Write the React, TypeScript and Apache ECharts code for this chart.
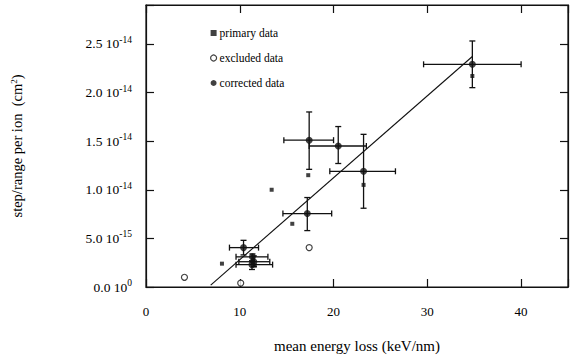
import React, { useEffect, useRef } from "react";
import * as echarts from "echarts";

// y values in units of 1e-15 cm^2
const primaryData: number[][] = [
  [34.8, 21.7], [17.3, 11.5], [23.2, 10.5], [13.4, 10.0], [15.6, 6.5], [8.1, 2.4],
  [11.4, 2.8], [11.6, 2.2],
];
const excludedData: number[][] = [
  [4.1, 1.0], [10.1, 0.4], [17.4, 4.05],
];
// [x, y, xLow, xHigh, yLow, yHigh]
const correctedData: number[][] = [
  [34.8, 22.9, 29.6, 40.0, 20.5, 25.3],
  [17.4, 15.1, 14.7, 20.0, 12.1, 18.0],
  [20.5, 14.5, 17.4, 23.5, 12.7, 16.5],
  [23.2, 11.9, 19.6, 26.6, 8.1, 15.7],
  [17.2, 7.55, 14.6, 19.8, 5.8, 9.2],
  [10.4, 4.05, 8.9, 12.0, 3.3, 4.8],
  [11.35, 3.1, 9.6, 13.0, 2.6, 3.4],
  [11.5, 2.6, 9.9, 13.2, 2.1, 3.2],
  [11.3, 2.3, 9.6, 13.5, 1.8, 2.7],
];
const fitLine: number[][] = [
  [6.9, 0.2],
  [34.8, 23.7],
];
const xTickLabels = [0, 10, 20, 30, 40];
const yTickLabels: Record<number, string[]> = {
  0: ["0.0", "0"],
  5: ["5.0", "-15"],
  10: ["1.0", "-14"],
  15: ["1.5", "-14"],
  20: ["2.0", "-14"],
  25: ["2.5", "-14"],
};
const legendNames = ["primary data", "excluded data", "corrected data"];

const FONT = "Liberation Serif";
const INK = "#000";

export default function App() {
  const ref = useRef<HTMLDivElement>(null);
  useEffect(() => {
    if (!ref.current) return;
    const chart = echarts.init(ref.current, undefined, { renderer: "svg" });
    const axisLine = { show: true, onZero: false, lineStyle: { color: "#111", width: 1.2 } };
    const tick = { show: true, inside: true, length: 8, lineStyle: { color: "#111", width: 1.2 } };
    chart.setOption({
      animation: false,
      backgroundColor: "#fff",
      grid: { left: 146, right: 2, top: 5, bottom: 69, show: true, borderColor: "#111", borderWidth: 1.2, backgroundColor: "transparent" },
      legend: {
        data: [
          { name: legendNames[0], icon: "rect", itemStyle: { color: "#111" } },
          { name: legendNames[1], icon: "circle", itemStyle: { color: "#fff", borderColor: "#111", borderWidth: 1.2 } },
          { name: legendNames[2], icon: "circle", itemStyle: { color: "#111" } },
        ],
        orient: "vertical",
        left: 205,
        top: 22,
        itemWidth: 6,
        itemHeight: 6,
        itemGap: 13,
        selectedMode: false,
        textStyle: { fontFamily: FONT, fontSize: 11.5, color: INK, padding: [0, 0, 0, -2] },
      },
      xAxis: [
        {
          type: "value",
          min: 0,
          max: 45,
          interval: 10,
          name: "mean energy loss (keV/nm)",
          nameLocation: "middle",
          nameGap: 51,
          nameTextStyle: { fontFamily: FONT, fontSize: 15, color: INK },
          axisLine,
          axisTick: tick,
          splitLine: { show: false },
          axisLabel: {
            fontFamily: FONT,
            fontSize: 13,
            color: INK,
            margin: 18,
            formatter: (v: number) => (xTickLabels.includes(v) ? String(v) : ""),
          },
        },
        {
          type: "value",
          position: "top",
          min: 0,
          max: 45,
          interval: 10,
          axisLine,
          axisTick: tick,
          splitLine: { show: false },
          axisLabel: { show: false },
        },
      ],
      yAxis: [
        {
          type: "value",
          min: 0,
          max: 29,
          interval: 5,
          name: "step/range per ion  (cm{sup|2})",
          nameLocation: "middle",
          nameGap: 121,
          nameRotate: 90,
          nameTextStyle: {
            fontFamily: FONT,
            fontSize: 14.5,
            color: INK,
            rich: { sup: { fontFamily: FONT, fontSize: 9, color: INK, verticalAlign: "top", padding: [0, 0, 7, 0] } },
          },
          axisLine,
          axisTick: tick,
          splitLine: { show: false },
          axisLabel: {
            margin: 14,
            fontFamily: FONT,
            fontSize: 13.5,
            color: INK,
            formatter: (v: number) => {
              const t = yTickLabels[Math.round(v)];
              return t ? `{base|${t[0]} 10}{sup|${t[1]}}` : "";
            },
            rich: {
              base: { fontFamily: FONT, fontSize: 13.5, color: INK },
              sup: { fontFamily: FONT, fontSize: 9.5, color: INK, verticalAlign: "top", padding: [0, 0, 8, 0] },
            },
          },
        },
        {
          type: "value",
          position: "right",
          min: 0,
          max: 29,
          interval: 5,
          axisLine,
          axisTick: tick,
          splitLine: { show: false },
          axisLabel: { show: false },
        },
      ],
      series: [
        {
          type: "scatter",
          xAxisIndex: 1,
          yAxisIndex: 1,
          data: [[-10, -10]],
          symbolSize: 0,
          silent: true,
        },
        {
          type: "line",
          data: fitLine,
          symbol: "none",
          lineStyle: { color: "#111", width: 1.1 },
          silent: true,
          z: 2,
        },
        {
          type: "custom",
          data: correctedData,
          z: 3,
          renderItem: (_p: any, api: any) => {
            const x = api.value(0), y = api.value(1);
            const xl = api.coord([api.value(2), y]);
            const xh = api.coord([api.value(3), y]);
            const yl = api.coord([x, api.value(4)]);
            const yh = api.coord([x, api.value(5)]);
            const c = 3;
            const st = { stroke: "#111", lineWidth: 1.3 };
            const ln = (x1: number, y1: number, x2: number, y2: number) => ({
              type: "line",
              shape: { x1, y1, x2, y2 },
              style: st,
            });
            return {
              type: "group",
              children: [
                ln(xl[0], xl[1], xh[0], xh[1]),
                ln(xl[0], xl[1] - c, xl[0], xl[1] + c),
                ln(xh[0], xh[1] - c, xh[0], xh[1] + c),
                ln(yl[0], yl[1], yh[0], yh[1]),
                ln(yl[0] - c, yl[1], yl[0] + c, yl[1]),
                ln(yh[0] - c, yh[1], yh[0] + c, yh[1]),
              ],
            };
          },
        },
        {
          name: legendNames[0],
          type: "scatter",
          data: primaryData,
          symbol: "rect",
          symbolSize: 4,
          itemStyle: { color: "#111" },
          z: 4,
        },
        {
          name: legendNames[1],
          type: "scatter",
          data: excludedData,
          symbol: "circle",
          symbolSize: 6,
          itemStyle: { color: "#fff", borderColor: "#111", borderWidth: 1.2 },
          z: 4,
        },
        {
          name: legendNames[2],
          type: "scatter",
          data: correctedData.map((d) => [d[0], d[1]]),
          symbol: "circle",
          symbolSize: 7,
          itemStyle: { color: "#111" },
          z: 5,
        },
      ],
    });
    return () => chart.dispose();
  }, []);
  return <div ref={ref} style={{ width: 571, height: 358, position: "absolute", left: 0, top: 0 }} />;
}
